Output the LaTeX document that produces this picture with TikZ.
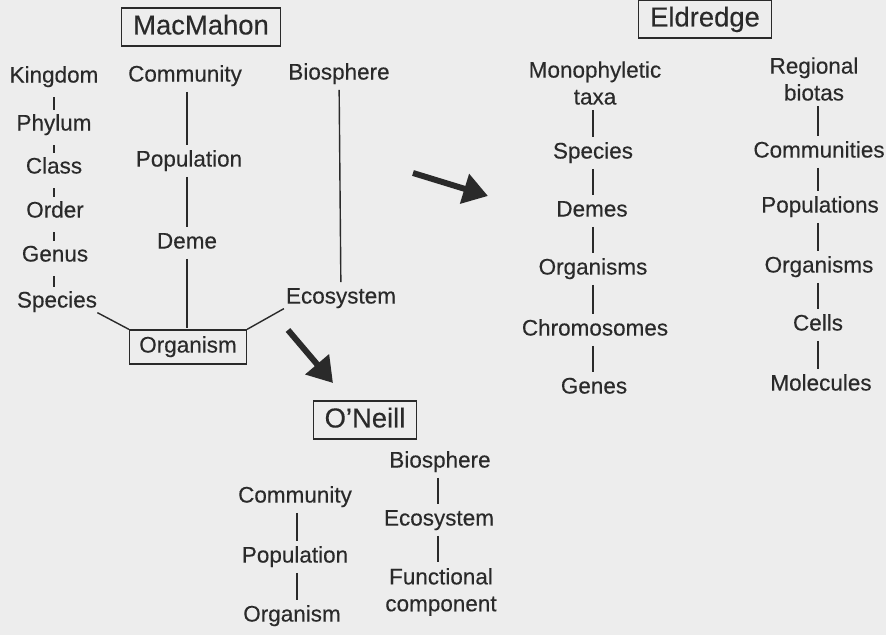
\documentclass[tikz,border=0pt]{standalone}
\usepackage{fontspec}
\setmainfont{Liberation Sans}[FakeBold=0.3]
\usepackage{tikz}
\usetikzlibrary{arrows.meta}
\definecolor{paper}{HTML}{EDEDED}
\definecolor{ink}{HTML}{2A2A2A}

\begin{document}
\begin{tikzpicture}[x=0.02cm,y=-0.02cm,
  lvl/.style={text=ink,font=\fontsize{12.8}{15.3}\selectfont,text height=9pt,text depth=2.7pt,inner sep=2pt},
  lvltwo/.style={text=ink,font=\fontsize{12.8}{15.3}\selectfont,align=center,inner sep=2pt},
  auth/.style={draw=ink,line width=0.8pt,text=ink,font=\fontsize{15.6}{18}\selectfont,text height=11.5pt,text depth=3pt,inner xsep=6.5pt,inner ysep=3.5pt},
  orgbox/.style={draw=ink,line width=0.8pt,text=ink,font=\fontsize{12.8}{15.3}\selectfont,text height=9pt,text depth=2.7pt,inner xsep=5.5pt,inner ysep=3.8pt},
  lnk/.style={draw=ink,line width=0.8pt,shorten >=1pt,shorten <=1pt},
  tick/.style={draw=ink,line width=1pt,shorten >=0.7pt,shorten <=3.4pt},
  bigarrow/.style={draw=ink,fill=ink,line width=3.4pt,-{Triangle[length=14pt,width=17pt]}}]
  \fill[paper] (0,0) rectangle (886,635);
  \useasboundingbox (0,0) rectangle (886,635);
  %MacMahon
  \node[auth] (mm) at (201,27) {MacMahon};
  \node[lvl] (kin) at (54,77) {Kingdom};
  \node[lvl] (phy) at (54,125) {Phylum};
  \node[lvl] (cla) at (54,168) {Class};
  \node[lvl] (ord) at (55,212) {Order};
  \node[lvl] (gen) at (55,256) {Genus};
  \node[lvl] (spe) at (57,302) {Species};
  \node[lvl] (com) at (185,76) {Community};
  \node[lvl] (pop) at (189,161) {Population};
  \node[lvl] (dem) at (187,243) {Deme};
  \node[lvl] (bio) at (339,74) {Biosphere};
  \node[lvl] (eco) at (341,298) {Ecosystem};
  \node[orgbox] (org) at (188,347) {Organism};
  \foreach \a/\b in {kin/phy,phy/cla,cla/ord,ord/gen,gen/spe}
    \draw[tick] (\a.south -| 54,0) -- (\b.north -| 54,0);
  \draw[lnk] (com.south -| 187,0) -- (pop.north -| 187,0);
  \draw[lnk] (pop.south -| 187,0) -- (dem.north -| 187,0);
  \draw[lnk] (dem.south -| 187,0) -- (org.north -| 187,0);
  \draw[lnk] (bio) -- (eco);
  \draw[draw=ink,line width=0.8pt] ([xshift=-2pt,yshift=2pt]spe.south east) -- (org.north west);
  \draw[draw=ink,line width=0.8pt] ([xshift=1pt,yshift=2pt]eco.south west) -- (org.north east);

  %Eldredge
  \node[auth] (eld) at (705,19) {Eldredge};
  \node[lvltwo] (mono) at (595,83) {Monophyletic\\taxa};
  \node[lvl] (spc) at (593,153) {Species};
  \node[lvl] (dms) at (592,211) {Demes};
  \node[lvl] (ogs) at (593,269) {Organisms};
  \node[lvl] (chr) at (595,330) {Chromosomes};
  \node[lvl] (gns) at (594,388) {Genes};
  \node[lvltwo] (reg) at (814,79) {Regional\\biotas};
  \node[lvl] (cms) at (819,152) {Communities};
  \node[lvl] (pps) at (820,207) {Populations};
  \node[lvl] (ogr) at (819,267) {Organisms};
  \node[lvl] (cel) at (818,325) {Cells};
  \node[lvl] (mol) at (821,385) {Molecules};
  \foreach \a/\b in {mono/spc,spc/dms,dms/ogs,ogs/chr,chr/gns}
    \draw[lnk] (\a.south -| 593,0) -- (\b.north -| 593,0);
  \foreach \a/\b in {reg/cms,cms/pps,pps/ogr,ogr/cel,cel/mol}
    \draw[lnk] (\a.south -| 818,0) -- (\b.north -| 818,0);

  %O'Neill
  \node[auth] (one) at (365,420) {O'Neill};
  \node[lvl] (ocom) at (295,497) {Community};
  \node[lvl] (opop) at (295,557) {Population};
  \node[lvl] (oorg) at (292,616) {Organism};
  \node[lvl] (obio) at (440,462) {Biosphere};
  \node[lvl] (oeco) at (439,520) {Ecosystem};
  \node[lvltwo] (ofun) at (441,592) {Functional\\component};
  \draw[lnk] (ocom.south -| 297,0) -- (opop.north -| 297,0);
  \draw[lnk] (opop.south -| 297,0) -- (oorg.north -| 297,0);
  \draw[lnk] (obio.south -| 438,0) -- (oeco.north -| 438,0);
  \draw[lnk] (oeco.south -| 438,0) -- (ofun.north -| 438,0);

  %arrows
  \coordinate (a1s) at (288,330);
  \coordinate (a1e) at (333,383);
  \coordinate (a2s) at (413,173);
  \coordinate (a2e) at (488,196);
  \draw[bigarrow] (a1s) -- (a1e);
  \draw[bigarrow] (a2s) -- (a2e);
\end{tikzpicture}
\end{document}
